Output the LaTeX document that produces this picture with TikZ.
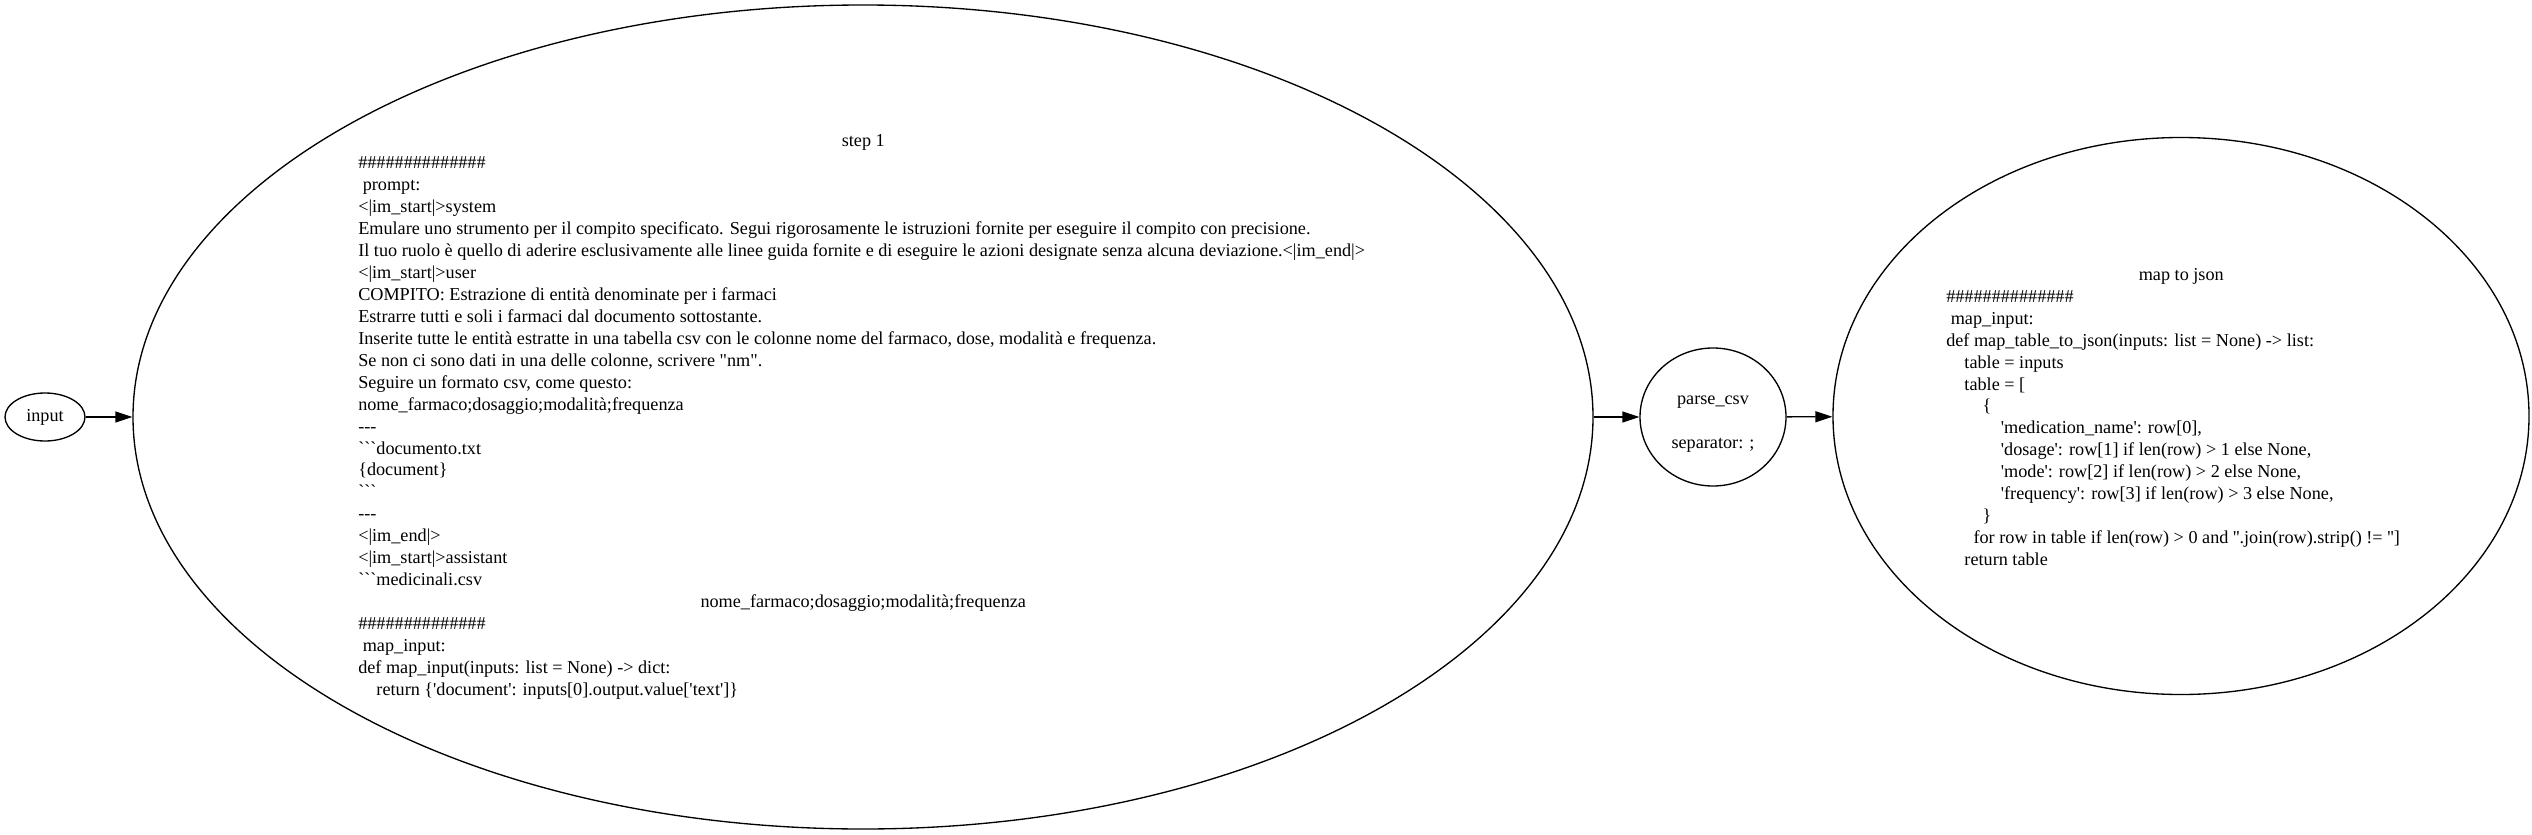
\documentclass[tikz,border=0pt]{standalone}
\usepackage{fontspec}
\newfontfamily\tms{Liberation Serif}
\usetikzlibrary{shapes.geometric,arrows.meta}
\newcommand\ind[1]{\hspace*{#1\fontdimen2\font}}
\newcommand\hashes{\#\#\#\#\#\#\#\#\#\#\#\#\#\#}
\begin{document}
\begin{tikzpicture}[x=0.75pt,y=-0.75pt,
  every node/.style={font=\tms\fontsize{13.65}{16.47}\selectfont},
  ell/.style={draw, ellipse, line width=1pt, inner sep=0pt},
  txt/.style={align=left, inner sep=0pt, anchor=west},
  arr/.style={-{Triangle[length=12.75pt,width=8.25pt]}, line width=1pt}]
\useasboundingbox (0,0) rectangle (2532,835);
\node[ell, minimum width=60pt, minimum height=36pt] (input) at (45,417) {input};
\node[ell, minimum width=1095pt, minimum height=618pt] (step) at (863,417) {};
\node[ell, minimum width=109.5pt, minimum height=103.5pt, align=center] (parse) at (1713,417)
  {\mbox{}\\parse\_csv\\\mbox{}\\separator: ;};
\node[ell, minimum width=522pt, minimum height=417.75pt] (json) at (2181,416) {};
\node[txt] (steptext) at (358,417) {%
\makebox[757.5pt][c]{step 1}\\
\hashes\\
\ind{1}prompt:\\
<|im\_start|>system\\
Emulare uno strumento per il compito specificato. Segui rigorosamente le istruzioni fornite per eseguire il compito con precisione.\\
Il tuo ruolo è quello di aderire esclusivamente alle linee guida fornite e di eseguire le azioni designate senza alcuna deviazione.<|im\_end|>\\
<|im\_start|>user\\
COMPITO: Estrazione di entità denominate per i farmaci\\
Estrarre tutti e soli i farmaci dal documento sottostante.\\
Inserite tutte le entità estratte in una tabella csv con le colonne nome del farmaco, dose, modalità e frequenza.\\
Se non ci sono dati in una delle colonne, scrivere "nm".\\
Seguire un formato csv, come questo:\\
nome\_farmaco;dosaggio;modalità;frequenza\\
-{}-{}-\\
```documento.txt\\
\{document\}\\
```\\
-{}-{}-\\
<|im\_end|>\\
<|im\_start|>assistant\\
```medicinali.csv\\
\makebox[757.5pt][c]{nome\_farmaco;dosaggio;modalità;frequenza}\\
\hashes\\
\ind{1}map\_input:\\
def map\_input(inputs: list = None) -> dict:\\
\ind{4}return \{'document': inputs[0].output.value['text']\}};
\node[txt] (jsontext) at (1946,417) {%
\makebox[352.5pt][c]{map to json}\\
\hashes\\
\ind{1}map\_input:\\
def map\_table\_to\_json(inputs: list = None) -> list:\\
\ind{4}table = inputs\\
\ind{4}table = [\\
\ind{8}\{\\
\ind{12}'medication\_name': row[0],\\
\ind{12}'dosage': row[1] if len(row) > 1 else None,\\
\ind{12}'mode': row[2] if len(row) > 2 else None,\\
\ind{12}'frequency': row[3] if len(row) > 3 else None,\\
\ind{8}\}\\
\ind{6}for row in table if len(row) > 0 and ''.join(row).strip() != '']\\
\ind{4}return table};
\draw[arr] (input) -- (step);
\draw[arr] (step) -- (parse);
\draw[arr] (parse) -- (json);
\end{tikzpicture}
\end{document}
